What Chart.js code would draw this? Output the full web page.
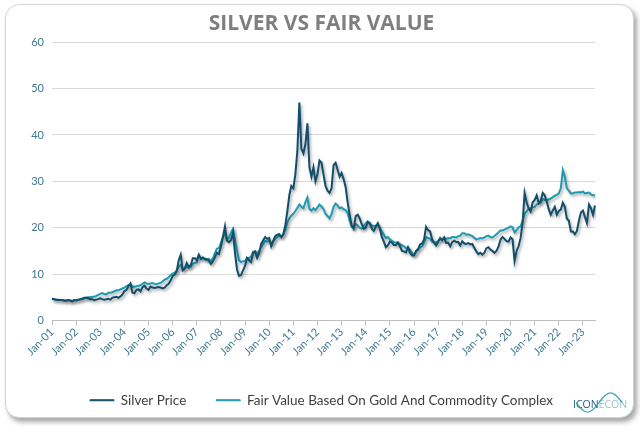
<!DOCTYPE html>
<html>
<head>
<meta charset="utf-8">
<title>Silver vs Fair Value</title>
<script src="https://cdn.jsdelivr.net/npm/chart.js@4.4.1/dist/chart.umd.min.js"></script>
<style>
    html, body { margin: 0; padding: 0; background: #fff; }
    #card {
        position: absolute; left: 5px; top: 4px; width: 627px; height: 412px;
        border: 1px solid #d4d4d4; border-radius: 14px;
        box-shadow: 3px 4px 5px rgba(0, 0, 0, 0.35); background: #fff;
    }
    #wrap { position: absolute; left: 0; top: 0; width: 640px; height: 429px; }
</style>
</head>
<body>
<div id="card"></div>
<div id="wrap"><canvas id="myChart" width="640" height="429"></canvas></div>
<script>
// tick labels (one per year) and month names for the categories
const yearTicks = ['Jan-01', 'Jan-02', 'Jan-03', 'Jan-04', 'Jan-05', 'Jan-06', 'Jan-07', 'Jan-08',
    'Jan-09', 'Jan-10', 'Jan-11', 'Jan-12', 'Jan-13', 'Jan-14', 'Jan-15', 'Jan-16', 'Jan-17',
    'Jan-18', 'Jan-19', 'Jan-20', 'Jan-21', 'Jan-22', 'Jan-23']
const monthNames = ['Jan', 'Feb', 'Mar', 'Apr', 'May', 'Jun', 'Jul', 'Aug', 'Sep', 'Oct', 'Nov', 'Dec']

// monthly values, Jan-01 .. Jul-23
const silverPrice = [
    4.7, 4.6, 4.5, 4.4, 4.4, 4.4, 4.3, 4.2, 4.4, 4.3, 4.1, 4.4,        // 2001
    4.3, 4.4, 4.6, 4.6, 4.9, 4.9, 4.8, 4.6, 4.6, 4.4, 4.5, 4.6,        // 2002
    4.8, 4.6, 4.5, 4.6, 4.7, 4.5, 4.9, 5.0, 5.1, 4.9, 5.2, 5.6,        // 2003
    6.3, 6.6, 7.4, 8.0, 6.0, 5.9, 6.6, 6.7, 6.3, 7.2, 7.5, 6.9,        // 2004
    6.6, 7.3, 7.1, 7.0, 7.1, 7.2, 7.1, 6.9, 7.1, 7.6, 7.9, 8.6,        // 2005
    9.6, 9.9, 10.6, 13.0, 14.2, 10.8, 11.2, 12.4, 11.6, 11.9, 13.4, 13.4,   // 2006
    13.0, 14.2, 13.3, 13.6, 13.3, 13.2, 12.9, 12.2, 12.8, 13.6, 14.6, 14.3, // 2007
    16.0, 18.0, 20.3, 17.2, 16.9, 17.3, 19.0, 14.5, 11.0, 9.6, 9.8, 10.8,   // 2008
    11.8, 13.5, 13.0, 12.6, 14.6, 14.8, 13.5, 14.5, 16.5, 17.3, 18.0, 17.6, // 2009
    17.8, 16.0, 17.2, 18.2, 18.5, 18.6, 18.0, 18.6, 20.5, 23.5, 27.0, 29.0, // 2010
    28.5, 31.5, 36.5, 47.0, 37.0, 36.0, 38.0, 42.5, 33.0, 31.0, 33.0, 30.0, // 2011
    31.5, 34.5, 34.0, 31.5, 29.0, 28.0, 27.5, 28.5, 33.5, 34.0, 32.5, 31.0, // 2012
    31.8, 30.5, 28.8, 25.5, 22.8, 20.5, 19.8, 22.5, 22.8, 22.0, 20.8, 19.8, // 2013
    20.0, 21.2, 21.0, 19.8, 19.3, 20.2, 21.0, 19.8, 18.0, 17.0, 15.8, 16.2, // 2014
    17.0, 16.8, 16.3, 16.3, 16.8, 16.0, 15.0, 14.9, 14.7, 15.8, 14.6, 14.0, // 2015
    14.0, 15.0, 15.4, 16.4, 16.6, 17.5, 20.2, 19.5, 19.2, 17.5, 16.8, 16.2, // 2016
    16.9, 17.8, 17.3, 17.9, 16.7, 16.8, 16.0, 16.9, 17.2, 16.9, 16.9, 16.2, // 2017
    17.1, 16.6, 16.5, 16.7, 16.4, 16.5, 15.6, 14.9, 14.3, 14.6, 14.2, 14.6, // 2018
    15.6, 15.8, 15.3, 15.0, 14.6, 15.0, 15.9, 17.4, 18.0, 17.6, 17.1, 17.0, // 2019
    17.9, 17.5, 12.8, 15.0, 16.0, 17.8, 21.0, 27.5, 25.5, 24.2, 23.5, 25.5, // 2020
    26.0, 27.0, 25.3, 25.8, 27.5, 27.0, 25.6, 24.0, 22.8, 23.7, 24.5, 22.8, // 2021
    23.6, 23.9, 25.4, 24.5, 22.0, 21.5, 19.2, 19.2, 18.6, 19.3, 21.5, 23.3, // 2022
    23.7, 22.3, 21.0, 25.0, 24.2, 22.8, 24.8                                // 2023
]
const fairValue = [
    4.7, 4.6, 4.5, 4.5, 4.4, 4.4, 4.3, 4.3, 4.4, 4.3, 4.2, 4.3,        // 2001
    4.4, 4.5, 4.6, 4.7, 4.8, 4.9, 5.0, 5.0, 5.1, 5.1, 5.3, 5.5,        // 2002
    5.8, 5.9, 5.7, 5.6, 6.0, 6.0, 6.1, 6.3, 6.5, 6.5, 6.7, 6.9,        // 2003
    7.1, 7.4, 7.6, 7.8, 7.3, 7.3, 7.4, 7.5, 7.6, 7.9, 8.2, 8.0,        // 2004
    7.9, 8.0, 8.1, 7.9, 7.8, 8.0, 8.1, 8.4, 8.8, 9.0, 9.3, 9.8,        // 2005
    10.1, 10.3, 10.8, 11.6, 12.0, 11.0, 11.3, 11.6, 11.3, 11.6, 12.2, 12.4, // 2006
    12.5, 14.0, 13.4, 13.4, 13.2, 13.0, 13.3, 12.8, 13.4, 14.5, 15.5, 15.6, // 2007
    16.8, 18.0, 18.7, 17.5, 17.8, 19.0, 19.8, 17.3, 15.0, 13.0, 12.6, 12.8, // 2008
    12.8, 13.5, 13.5, 13.8, 14.8, 15.0, 14.5, 15.0, 15.8, 16.5, 17.2, 17.0, // 2009
    17.2, 16.5, 17.0, 17.6, 18.0, 18.3, 18.0, 18.5, 19.5, 21.2, 22.0, 22.6, // 2010
    23.0, 23.6, 24.3, 25.0, 24.5, 24.2, 25.5, 26.5, 24.0, 23.7, 24.2, 23.8, // 2011
    24.4, 25.0, 24.6, 24.0, 23.0, 22.5, 22.0, 23.0, 24.5, 25.2, 24.8, 24.2, // 2012
    24.4, 24.0, 23.8, 23.2, 21.5, 20.2, 20.0, 20.8, 20.5, 20.0, 19.8, 20.3, // 2013
    21.0, 21.4, 20.8, 20.5, 20.3, 20.5, 20.6, 20.0, 19.2, 18.5, 17.8, 18.0, // 2014
    17.5, 17.2, 16.9, 16.8, 16.8, 16.5, 16.2, 16.0, 15.6, 15.8, 15.2, 14.6, // 2015
    14.2, 14.8, 15.2, 15.8, 16.0, 16.8, 18.0, 17.8, 17.6, 17.0, 16.8, 16.8, // 2016
    17.2, 17.6, 17.4, 17.9, 17.6, 17.8, 17.7, 18.0, 18.0, 17.9, 18.2, 18.3, // 2017
    18.8, 18.8, 18.5, 18.6, 18.4, 18.2, 17.8, 17.5, 17.6, 17.8, 17.7, 17.9, // 2018
    18.2, 18.3, 18.0, 17.9, 18.2, 18.6, 19.0, 19.4, 19.4, 19.6, 19.8, 20.0, // 2019
    20.3, 20.1, 19.0, 19.5, 20.1, 20.3, 21.5, 23.0, 23.5, 24.1, 24.2, 24.4, // 2020
    24.5, 25.0, 25.2, 25.4, 26.2, 26.0, 26.0, 26.1, 26.3, 26.6, 26.9, 27.1, // 2021
    27.4, 28.5, 32.4, 31.0, 28.5, 28.0, 27.4, 27.4, 27.6, 27.6, 27.7, 27.6, // 2022
    27.8, 27.4, 27.5, 27.6, 27.2, 27.0, 27.0                                // 2023
]

// categories: Jan-01, Feb-01, ... one per value
const labels = silverPrice.map((v, i) => {
    const yy = yearTicks[Math.floor(i / 12)].slice(4)
    return monthNames[i % 12] + '-' + yy
})

const textColor = '#3f7890'
const fontFamily = "Lato, 'Open Sans', sans-serif"

// soft shadow under the lines, like the excel original
const lineShadow = {
    id: 'lineShadow',
    beforeDatasetDraw(chart) {
        const ctx = chart.ctx
        ctx.save()
        ctx.shadowColor = 'rgba(0, 0, 0, 0.35)'
        ctx.shadowBlur = 3
        ctx.shadowOffsetX = 1.5
        ctx.shadowOffsetY = 2
    },
    afterDatasetDraw(chart) {
        chart.ctx.restore()
    }
}

// small ICONECON mark in the bottom right corner
const logo = {
    id: 'logo',
    afterDraw(chart) {
        const ctx = chart.ctx
        ctx.save()
        ctx.font = "10.5px 'Open Sans', sans-serif"
        ctx.textBaseline = 'alphabetic'
        ctx.fillStyle = '#1d5c79'
        ctx.fillText('ICON', 573, 408)
        const w = ctx.measureText('ICON').width
        ctx.fillStyle = '#9cbfcc'
        ctx.fillText('ECON', 573 + w, 408)
        ctx.strokeStyle = '#2a9fb3'
        ctx.lineWidth = 1.2
        ctx.beginPath()
        for (let t = 0; t <= 1.0001; t += 0.02) {
            const x = 576 + t * 46
            const y = 402.5 + 9.5 * Math.sin(2 * Math.PI * t)
            if (t === 0) ctx.moveTo(x, y)
            else ctx.lineTo(x, y)
        }
        ctx.stroke()
        ctx.restore()
    }
}

const data = {
    labels,
    datasets: [{
        label: 'Silver Price',
        data: silverPrice,
        borderColor: '#124e6a',
        backgroundColor: '#124e6a',
        borderWidth: 2,
        pointRadius: 0,
        tension: 0
    },
    {
        label: 'Fair Value Based On Gold And Commodity Complex',
        data: fairValue,
        borderColor: '#1f9bb1',
        backgroundColor: '#1f9bb1',
        borderWidth: 2,
        pointRadius: 0,
        tension: 0
    }]
}

const config = {
    type: 'line',
    data,
    plugins: [lineShadow, logo],
    options: {
        responsive: false,
        animation: false,
        layout: {
            padding: { left: 18, right: 15, top: 0, bottom: 12 }
        },
        plugins: {
            title: {
                display: true,
                text: 'SILVER VS FAIR VALUE',
                color: '#7f7f7f',
                font: { family: "'Open Sans', sans-serif", size: 21, weight: 'bold' },
                padding: { top: 11, bottom: 6 }
            },
            legend: {
                position: 'bottom',
                labels: {
                    boxWidth: 24,
                    boxHeight: 1,
                    color: '#404040',
                    font: { family: fontFamily, size: 13.5 },
                    padding: 30,
                    generateLabels(chart) {
                        const items = Chart.defaults.plugins.legend.labels.generateLabels(chart)
                        items.forEach(it => { it.lineWidth = 1 })
                        return items
                    }
                }
            },
            tooltip: { enabled: false }
        },
        scales: {
            x: {
                grid: {
                    drawOnChartArea: false,
                    color: '#bfbfbf',
                    tickLength: 5
                },
                border: { color: '#bfbfbf' },
                ticks: {
                    autoSkip: false,
                    maxRotation: 45,
                    minRotation: 45,
                    color: textColor,
                    font: { family: fontFamily, size: 11 },
                    padding: 0,
                    callback: function (value) {
                        const lab = this.getLabelForValue(value)
                        return yearTicks.includes(lab) ? lab : null
                    }
                },
                afterFit(scale) { scale.height = 43 }
            },
            y: {
                min: 0,
                max: 60,
                grid: { color: '#d9d9d9', drawTicks: false },
                border: { display: false },
                ticks: {
                    stepSize: 10,
                    color: textColor,
                    font: { family: fontFamily, size: 11 },
                    padding: 8
                },
                afterFit(scale) { scale.width = 34 }
            },
            // empty right-hand axis, only keeps space so the legend stays centred on the card
            yRight: {
                position: 'right',
                grid: { display: false },
                border: { display: false },
                ticks: { display: false },
                afterFit(scale) { scale.width = 30 }
            }
        }
    }
}

const myChart = new Chart(document.getElementById('myChart'), config)
</script>
</body>
</html>
